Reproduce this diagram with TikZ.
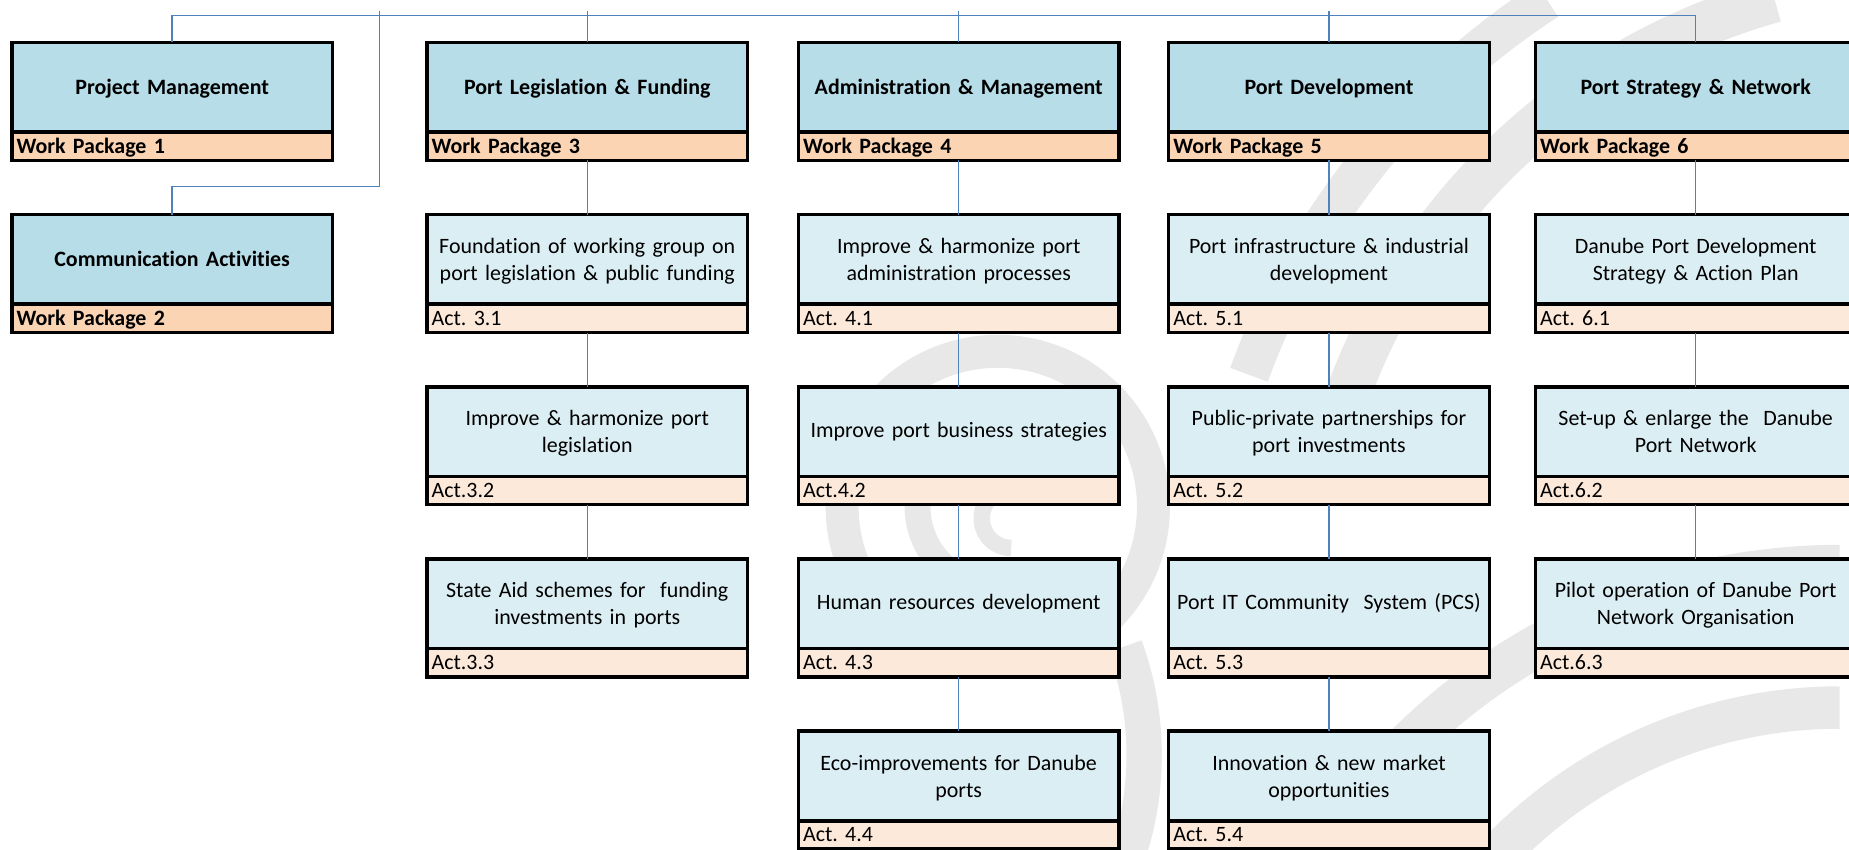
\documentclass[tikz,border=0pt]{standalone}
\usepackage{fontspec}
\setmainfont{Carlito}[Ligatures=NoCommon]
\usepackage{xcolor}
\usepackage{tikz}
\usetikzlibrary{positioning}
\definecolor{hdblue}{HTML}{B7DDE8}
\definecolor{hdpeach}{HTML}{FBD4B4}
\definecolor{acblue}{HTML}{DBEEF3}
\definecolor{acpeach}{HTML}{FDE9D9}
\definecolor{linkblue}{HTML}{4F81BD}
\definecolor{wmgrey}{HTML}{E8E8E8}
\frenchspacing

\begin{document}
\begin{tikzpicture}[x=1pt, y=-1pt,
every node/.style = {draw=black, line width=3pt, outer sep=0pt,
inner sep=0pt, minimum width=272pt, text width=268pt,
font=\fontsize{18.6}{23}\selectfont},
wphead/.style = {fill=hdblue, minimum height=76pt, align=center,
text height=16pt, text depth=4pt,
font=\fontsize{18.6}{23}\selectfont\bfseries},
wptag/.style = {fill=hdpeach, minimum height=24pt, align=left,
text width=264pt, text height=16pt, text depth=4pt,
font=\fontsize{18.6}{23}\selectfont\bfseries, below=0pt of #1},
acthead/.style = {fill=acblue, minimum height=76pt, align=center,
text height=17pt, text depth=27pt},
oneline/.style = {text height=14pt, text depth=4pt},
acttag/.style = {fill=acpeach, minimum height=24pt, align=left,
text width=264pt, text height=16pt, text depth=4pt, below=0pt of #1},
link/.style = {draw=linkblue, line width=1.2pt},
wmark/.style = {draw=wmgrey, line width=#1},
node distance=46pt ]
\useasboundingbox (0,0) rectangle (1568,720);
% background swirl
\draw[wmark=28pt] (931,531) arc (-50:215:132pt);
\draw[wmark=22pt] (905,396) arc (30:300:68pt);
\draw[wmark=14pt] (870,418) arc (60:270:25pt);
\draw[wmark=30pt] (954,548) arc (20:-20:270pt);
\draw[wmark=38pt] (1505,0) arc (105.6:162:540pt);
\draw[wmark=34pt] (1312,0) arc (123:160:640pt);
\draw[wmark=36pt] (1560,600) arc (90:145:400pt);
\draw[wmark=36pt] (1560,480) arc (90:150:520pt);

% work packages 1 and 2
\node[wphead, anchor=north] (wp1) at (146,36) {Project Management};
\node[wptag=wp1] (wp1tag) {Work Package 1};
\node[wphead, below=of wp1tag] (wp2) {Communication Activities};
\node[wptag=wp2] (wp2tag) {Work Package 2};

% work package 3
\node[wphead, anchor=north] (wp3) at (498,36) {Port Legislation \& Funding};
\node[wptag=wp3] (wp3tag) {Work Package 3};
\node[acthead, below=of wp3tag] (a31) {Foundation of working group on\\port legislation \& public funding};
\node[acttag=a31] (a31tag) {Act. 3.1};
\node[acthead, below=of a31tag] (a32) {Improve \& harmonize port\\legislation};
\node[acttag=a32] (a32tag) {Act.3.2};
\node[acthead, below=of a32tag] (a33) {State Aid schemes for~ funding\\investments in ports};
\node[acttag=a33] (a33tag) {Act.3.3};

% work package 4
\node[wphead, anchor=north] (wp4) at (813,36) {Administration \& Management};
\node[wptag=wp4] (wp4tag) {Work Package 4};
\node[acthead, below=of wp4tag] (a41) {Improve \& harmonize port\\administration processes};
\node[acttag=a41] (a41tag) {Act. 4.1};
\node[acthead, oneline, below=of a41tag] (a42) {Improve port business strategies};
\node[acttag=a42] (a42tag) {Act.4.2};
\node[acthead, oneline, below=of a42tag] (a43) {Human resources development};
\node[acttag=a43] (a43tag) {Act. 4.3};
\node[acthead, below=of a43tag] (a44) {Eco-improvements for Danube\\ports};
\node[acttag=a44] (a44tag) {Act. 4.4};

% work package 5
\node[wphead, anchor=north] (wp5) at (1127,36) {Port Development};
\node[wptag=wp5] (wp5tag) {Work Package 5};
\node[acthead, below=of wp5tag] (a51) {Port infrastructure \& industrial\\development};
\node[acttag=a51] (a51tag) {Act. 5.1};
\node[acthead, below=of a51tag] (a52) {Public-private partnerships for\\port investments};
\node[acttag=a52] (a52tag) {Act. 5.2};
\node[acthead, oneline, below=of a52tag] (a53) {Port IT Community~ System (PCS)};
\node[acttag=a53] (a53tag) {Act. 5.3};
\node[acthead, below=of a53tag] (a54) {Innovation \& new market\\opportunities};
\node[acttag=a54] (a54tag) {Act. 5.4};

% work package 6
\node[wphead, anchor=north] (wp6) at (1438,36) {Port Strategy \& Network};
\node[wptag=wp6] (wp6tag) {Work Package 6};
\node[acthead, below=of wp6tag] (a61) {Danube Port Development\\Strategy \& Action Plan};
\node[acttag=a61] (a61tag) {Act. 6.1};
\node[acthead, below=of a61tag] (a62) {Set-up \& enlarge the~ Danube\\Port Network};
\node[acttag=a62] (a62tag) {Act.6.2};
\node[acthead, below=of a62tag] (a63) {Pilot operation of Danube Port\\Network Organisation};
\node[acttag=a63] (a63tag) {Act.6.3};

% top bus
\coordinate (busL) at (146,13);
\coordinate (busR) at (1438,13);
\coordinate (hub) at (322,9);
\coordinate (elbow) at (146,158);
\draw[link] (busL) -- (busR);
\draw[link] (wp1.north) -- (wp1.north |- busL);
\draw[link] (wp6.north) -- (wp6.north |- busR);
\draw[link] (wp3.north) -- (wp3.north |- hub);
\draw[link] (wp4.north) -- (wp4.north |- hub);
\draw[link] (wp5.north) -- (wp5.north |- hub);
\draw[link] (hub) |- (elbow) -- (wp2.north);

% activity links
\draw[link] (wp3tag.south) -- (a31.north);
\draw[link] (a31tag.south) -- (a32.north);
\draw[link] (a32tag.south) -- (a33.north);
\draw[link] (wp4tag.south) -- (a41.north);
\draw[link] (a41tag.south) -- (a42.north);
\draw[link] (a42tag.south) -- (a43.north);
\draw[link] (a43tag.south) -- (a44.north);
\draw[link] (wp5tag.south) -- (a51.north);
\draw[link] (a51tag.south) -- (a52.north);
\draw[link] (a52tag.south) -- (a53.north);
\draw[link] (a53tag.south) -- (a54.north);
\draw[link] (wp6tag.south) -- (a61.north);
\draw[link] (a61tag.south) -- (a62.north);
\draw[link] (a62tag.south) -- (a63.north);
\end{tikzpicture}
\end{document}
